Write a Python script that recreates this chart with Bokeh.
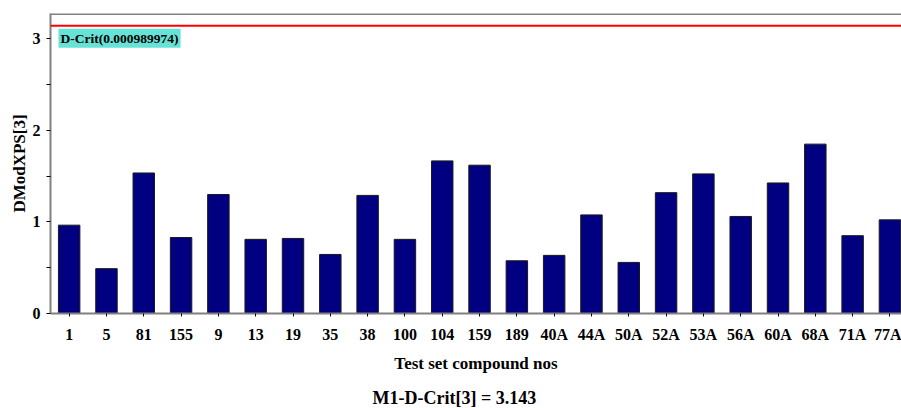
from bokeh.plotting import figure
from bokeh.models import Range1d, FixedTicker, Span, Label, Title, ColumnDataSource
from bokeh.embed import file_html
from bokeh.resources import INLINE

compounds = ["1", "5", "81", "155", "9", "13", "19", "35", "38", "100", "104", "159",
             "189", "40A", "44A", "50A", "52A", "53A", "56A", "60A", "68A", "71A", "77A"]
dmodx = [0.965, 0.49, 1.535, 0.83, 1.30, 0.81, 0.82, 0.645, 1.29, 0.81, 1.667, 1.62,
         0.576, 0.635, 1.077, 0.558, 1.32, 1.525, 1.06, 1.426, 1.85, 0.85, 1.023]
d_crit = 3.143
d_crit_level = "0.000989974"
y_ticks = [0, 1, 2, 3]
y_minor_ticks = [0.5, 1.5, 2.5]

positions = list(range(len(compounds)))
src = ColumnDataSource(dict(x=positions, top=dmodx, name=compounds))

FONT = "Liberation Serif"
GRAY = "#808080"

p = figure(width=901, height=408, output_backend="svg", toolbar_location=None,
           x_range=Range1d(-0.5, 22.31), y_range=Range1d(0, 3.277),
           min_border_top=13, min_border_left=50, min_border_right=0,
           min_border_bottom=0)
p.vbar(x="x", top="top", width=0.575, source=src,
       fill_color="#000080", line_color="#1a1a1a", line_width=1)

p.grid.visible = False
p.outline_line_color = None
p.background_fill_color = "white"
p.border_fill_color = "white"

for ax in (p.xaxis[0], p.yaxis[0]):
    ax.axis_line_color = GRAY
    ax.axis_line_width = 2
    ax.major_tick_line_color = "black"
    ax.major_tick_in = 0
    ax.major_label_text_font = FONT
    ax.major_label_text_font_style = "bold"
    ax.major_label_text_font_size = "16px"
    ax.major_label_text_color = "black"
    ax.axis_label_text_font = FONT
    ax.axis_label_text_font_style = "bold"
    ax.axis_label_text_font_size = "17px"
    ax.axis_label_text_color = "black"

p.xaxis.ticker = FixedTicker(ticks=positions)
p.xaxis.major_label_overrides = {i: c for i, c in enumerate(compounds)}
p.xaxis.major_tick_out = 3
p.xaxis.minor_tick_line_color = None
p.xaxis.major_label_standoff = 9
p.xaxis.axis_label = "Test set compound nos"
p.xaxis.axis_label_standoff = 8

p.yaxis.ticker = FixedTicker(ticks=y_ticks, minor_ticks=y_minor_ticks)
p.yaxis.major_tick_out = 4
p.yaxis.minor_tick_out = 4
p.yaxis.minor_tick_in = 0
p.yaxis.minor_tick_line_color = "black"
p.yaxis.major_label_standoff = 6
p.yaxis.axis_label = "DModXPS[3]"
p.yaxis.axis_label_standoff = 1

p.add_layout(Span(location=3.272, dimension="width", line_color=GRAY, line_width=2))
p.add_layout(Span(location=d_crit, dimension="width", line_color="red", line_width=2))

p.add_layout(Label(x=-0.5, y=d_crit, x_offset=8, y_offset=-3,
                   text=f"D-Crit({d_crit_level})", text_baseline="top",
                   text_font=FONT, text_font_style="bold", text_font_size="13.5px",
                   text_color="black", background_fill_color="#66E3D6", padding=2))

# spacer between the x axis block and the bottom caption
p.add_layout(Title(text=" ", text_font_size="1px", standoff=6), "below")
p.add_layout(Title(text=f"M1-D-Crit[3] = {d_crit}", align="left", offset=322,
                   standoff=2, text_font=FONT, text_font_style="bold",
                   text_font_size="18px", text_color="black"), "below")

open("out.html", "w").write(file_html(p, INLINE))
